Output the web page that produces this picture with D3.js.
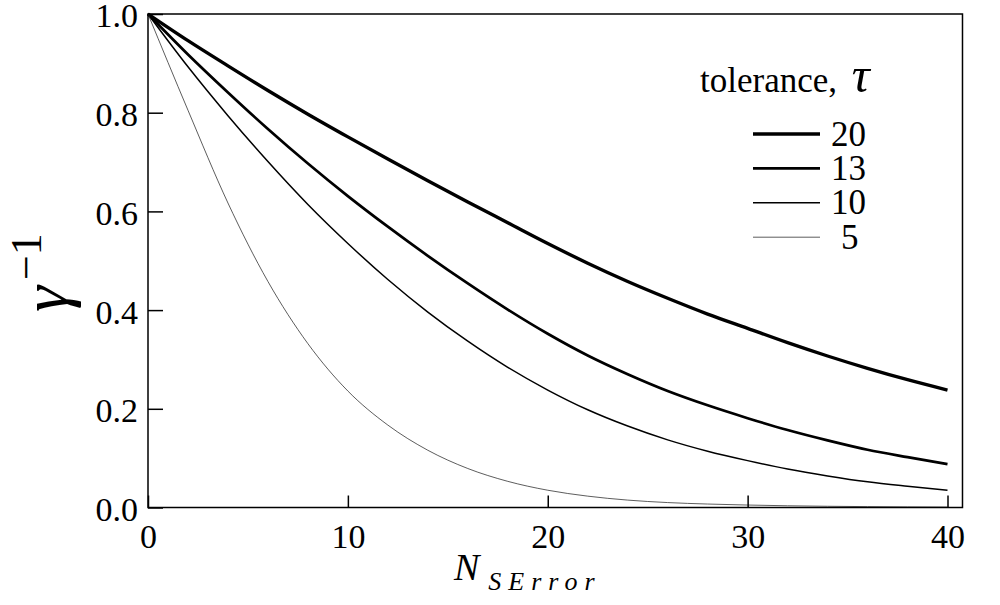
<!DOCTYPE html>
<html>
<head>
<meta charset="utf-8">
<script src="https://cdn.jsdelivr.net/npm/d3@7"></script>
<style>
    body { margin: 0; background: #fff; }
    svg text { font-family: "Liberation Serif", "DejaVu Serif", serif; }
</style>
</head>
<body>
<div id="chart"></div>
<script>
// N_SError values where the curves were read
var nValues = [0, 2, 4, 6, 8, 10, 12, 14, 16, 18, 20, 22, 24, 26, 28, 30, 32, 34, 36, 38, 40];

// gamma^-1 for each tolerance
var tol20 = [1.0, 0.946, 0.895, 0.845, 0.797, 0.751, 0.706, 0.662, 0.619, 0.577, 0.535, 0.495, 0.458, 0.424, 0.392, 0.363, 0.334, 0.307, 0.282, 0.259, 0.238];
var tol13 = [1.0, 0.918, 0.841, 0.767, 0.697, 0.631, 0.569, 0.510, 0.454, 0.401, 0.352, 0.308, 0.270, 0.236, 0.207, 0.181, 0.157, 0.136, 0.117, 0.102, 0.088];
var tol10 = [1.0, 0.893, 0.794, 0.701, 0.614, 0.535, 0.462, 0.396, 0.337, 0.284, 0.238, 0.198, 0.165, 0.137, 0.114, 0.095, 0.078, 0.064, 0.052, 0.043, 0.035];
var tol5 = [1.0, 0.805, 0.617, 0.458, 0.332, 0.236, 0.167, 0.116, 0.079, 0.053, 0.035, 0.023, 0.015, 0.010, 0.007, 0.005, 0.0035, 0.0025, 0.0018, 0.0012, 0.0008];

var tolLabels = ['20', '13', '10', '5'];
var xTicks = [0, 10, 20, 30, 40];
var yTicks = [0, 0.2, 0.4, 0.6, 0.8, 1.0];

var width = 1000, height = 605;
var serif = '"Liberation Serif", "DejaVu Serif", serif';

var series = [
    { label: tolLabels[0], values: tol20, width: 3.4, color: '#000' },
    { label: tolLabels[1], values: tol13, width: 2.7, color: '#000' },
    { label: tolLabels[2], values: tol10, width: 1.5, color: '#000' },
    { label: tolLabels[3], values: tol5, width: 0.8, color: '#333' }
];

var svg = d3.select('#chart')
    .append('svg')
    .attr('width', width)
    .attr('height', height);

var xScale = d3.scaleLinear()
    .domain([0, 40])
    .range([148, 947.5]);
var yScale = d3.scaleLinear()
    .domain([0, 1])
    .range([507.5, 14]);

// curves
var line = d3.line()
    .x(function (d, i) { return xScale(nValues[i]); })
    .y(function (d) { return yScale(d); })
    .curve(d3.curveMonotoneX);

svg.append('g')
    .selectAll('path')
    .data(series)
    .join('path')
    .attr('d', function (d) { return line(d.values); })
    .attr('fill', 'none')
    .attr('stroke', function (d) { return d.color; })
    .attr('stroke-width', function (d) { return d.width; });

// axes, ticks pointing inward
var xAxis = svg.append('g')
    .attr('transform', `translate(0,${yScale(0)})`)
    .call(d3.axisBottom(xScale)
        .tickValues(xTicks)
        .tickSize(-12)
        .tickPadding(16)
        .tickFormat(d3.format('d')));

var yAxis = svg.append('g')
    .attr('transform', `translate(${xScale(0)},0)`)
    .call(d3.axisLeft(yScale)
        .tickValues(yTicks)
        .tickSize(-15)
        .tickPadding(10)
        .tickFormat(d3.format('.1f')));

[xAxis, yAxis].forEach(function (ax) {
    ax.attr('font-family', null).attr('font-size', null);
    ax.select('.domain').remove();
    ax.selectAll('line').attr('stroke', '#000').attr('stroke-width', 1.5);
    ax.selectAll('text')
        .attr('fill', '#000')
        .style('font-family', serif)
        .style('font-size', '34px');
});
yAxis.selectAll('text').attr('dy', '0.38em');

// frame
svg.append('rect')
    .attr('x', xScale(0))
    .attr('y', yScale(1))
    .attr('width', xScale(40.75) - xScale(0))
    .attr('height', yScale(0) - yScale(1))
    .attr('fill', 'none')
    .attr('stroke', '#000')
    .attr('stroke-width', 1.5);

// legend
var legend = svg.append('g');

legend.append('text')
    .attr('x', 700)
    .attr('y', 92)
    .style('font-size', '35px')
    .text('tolerance, ')
    .append('tspan')
    .attr('dx', 6)
    .style('font-style', 'italic')
    .style('font-size', '50px')
    .text('τ');

var rows = legend.selectAll('g.row')
    .data(series)
    .join('g')
    .attr('class', 'row')
    .attr('transform', function (d, i) { return `translate(0,${134 + i * 34.4})`; });

rows.append('line')
    .attr('x1', 753)
    .attr('x2', 820)
    .attr('stroke', function (d) { return d.color; })
    .attr('stroke-width', function (d) { return d.width; });

rows.append('text')
    .attr('x', function (d) { return d.label.length < 2 ? 841 : 831; })
    .attr('y', 11.5)
    .style('font-size', '35px')
    .text(function (d) { return d.label; });

// axis titles
var xTitle = svg.append('text')
    .attr('x', 454)
    .attr('y', 580)
    .style('font-style', 'italic');
xTitle.append('tspan')
    .style('font-size', '38px')
    .text('N');
xTitle.append('tspan')
    .attr('dx', 9)
    .attr('dy', 10)
    .style('font-size', '26px')
    .style('letter-spacing', '7px')
    .text('SError');

var yTitle = svg.append('text')
    .attr('transform', 'translate(67,312) rotate(-90)');
yTitle.append('tspan')
    .style('font-style', 'italic')
    .style('font-size', '66px')
    .text('γ');
yTitle.append('tspan')
    .attr('dx', 6)
    .attr('dy', -26)
    .style('font-size', '44px')
    .text('−1');
</script>
</body>
</html>
